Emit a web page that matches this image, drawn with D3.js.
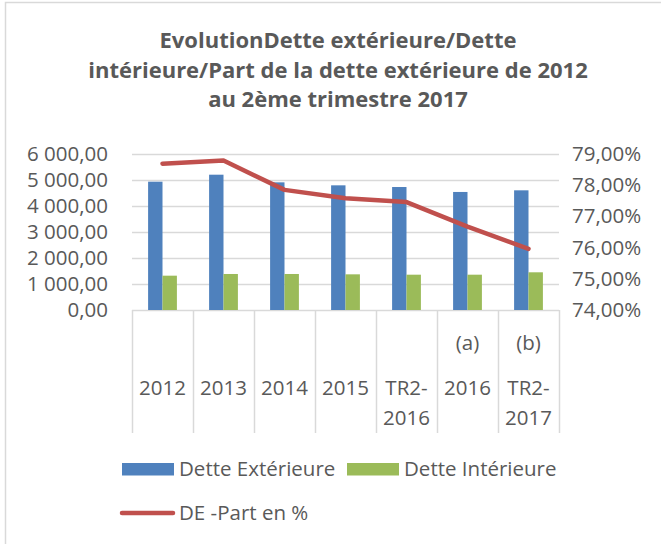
<!DOCTYPE html>
<html><head><meta charset="utf-8">
<script src="https://cdn.jsdelivr.net/npm/d3@7"></script>
<style>body{margin:0;background:#fff;} svg{display:block;} text{font-family:"Open Sans",sans-serif;fill:#595959;}</style>
</head><body><div id="chart"></div>
<script>
const categories = ["2012","2013","2014","2015","TR2-2016","2016","TR2-2017"];
const categoryLines = [["2012"],["2013"],["2014"],["2015"],["TR2-","2016"],["2016"],["TR2-","2017"]];
const categoryNotes = ["","","","","","(a)","(b)"];
const detteExterieure = [4935, 5204, 4910, 4795, 4730, 4540, 4603];
const detteInterieure = [1320, 1385, 1385, 1372, 1358, 1358, 1450];
const partDE = [78.69, 78.79, 77.85, 77.58, 77.46, 76.67, 75.96];
const leftTicks = [0,1000,2000,3000,4000,5000,6000];
const rightTicks = [74,75,76,77,78,79];
const titleLines = ["EvolutionDette extérieure/Dette","intérieure/Part de la dette extérieure de 2012","au 2ème trimestre 2017"];
const seriesNames = ["Dette Extérieure","Dette Intérieure","DE -Part en %"];
const colors = {ext:"#4F81BD", int:"#9BBB59", line:"#C0504D", grid:"#D9D9D9", text:"#595959"};

const W=661,H=544;
const svg=d3.select("#chart").append("svg").attr("width",W).attr("height",H);
// chart border
svg.append("path").attr("d","M5.5,544 V2.5 H661").attr("fill","none").attr("stroke",colors.grid).attr("stroke-width",1.5);

const plot={left:132,right:559,top:154,bottom:310};
const x0=d3.scaleBand().domain(categories).range([plot.left,plot.right]).paddingInner(0).paddingOuter(0);
const x1=d3.scaleBand().domain(["ext","int"]).range([0,x0.bandwidth()]).paddingInner(0).paddingOuter(1.118);
const yL=d3.scaleLinear().domain([0,6000]).range([plot.bottom,plot.top]);
const yR=d3.scaleLinear().domain([74,79]).range([plot.bottom,plot.top]);

// title
const tg=svg.append("g");
const titleY=[48,78,107];
titleLines.forEach((t,i)=>{
  tg.append("text").attr("x",338).attr("y",titleY[i]).attr("text-anchor","middle")
    .attr("font-size",22).attr("font-weight","bold").text(t);
});

// gridlines
svg.append("g").selectAll("line").data(leftTicks).join("line")
  .attr("x1",plot.left).attr("x2",plot.right)
  .attr("y1",d=>Math.round(yL(d))+0.5).attr("y2",d=>Math.round(yL(d))+0.5)
  .attr("stroke",colors.grid).attr("stroke-width",1.5);

// left axis labels
const fmtL=d=>d3.format(",.2f")(d).replace(/,/g," ").replace(".",",");
svg.append("g").selectAll("text").data(leftTicks).join("text")
  .attr("x",108).attr("y",d=>yL(d)+7).attr("text-anchor","end").attr("font-size",20.5)
  .text(fmtL);
// right axis labels
svg.append("g").selectAll("text").data(rightTicks).join("text")
  .attr("x",572).attr("y",d=>yR(d)+7).attr("text-anchor","start").attr("font-size",20.5)
  .text(d=>d3.format(".2f")(d).replace(".",",")+"%");

// category separators
const bounds=categories.map(c=>x0(c)).concat([plot.right]);
svg.append("g").selectAll("line").data(bounds).join("line")
  .attr("x1",d=>Math.round(d)+0.5).attr("x2",d=>Math.round(d)+0.5)
  .attr("y1",plot.bottom).attr("y2",433)
  .attr("stroke",colors.grid).attr("stroke-width",1.5);

// category labels
const cg=svg.append("g");
categories.forEach((c,i)=>{
  const cx=x0(c)+x0.bandwidth()/2;
  categoryLines[i].forEach((l,j)=>{
    cg.append("text").attr("x",cx).attr("y",395+j*30).attr("text-anchor","middle").attr("font-size",20.5).text(l);
  });
  if(categoryNotes[i]) cg.append("text").attr("x",cx).attr("y",350).attr("text-anchor","middle").attr("font-size",20.5).text(categoryNotes[i]);
});

// bars
const bars=svg.append("g");
bars.selectAll("rect.ext").data(detteExterieure).join("rect").attr("class","ext")
  .attr("x",(d,i)=>x0(categories[i])+x1("ext")).attr("width",x1.bandwidth())
  .attr("y",d=>yL(d)).attr("height",d=>yL(0)-yL(d)).attr("fill",colors.ext);
bars.selectAll("rect.int").data(detteInterieure).join("rect").attr("class","int")
  .attr("x",(d,i)=>x0(categories[i])+x1("int")).attr("width",x1.bandwidth())
  .attr("y",d=>yL(d)).attr("height",d=>yL(0)-yL(d)).attr("fill",colors.int);

// line
const line=d3.line().x((d,i)=>x0(categories[i])+x0.bandwidth()/2).y(d=>yR(d));
svg.append("path").datum(partDE).attr("d",line).attr("fill","none")
  .attr("stroke",colors.line).attr("stroke-width",4.5).attr("stroke-linejoin","round").attr("stroke-linecap","round");

// legend
const lg=svg.append("g");
lg.append("rect").attr("x",122).attr("y",463).attr("width",52).attr("height",12.5).attr("fill",colors.ext);
lg.append("text").attr("x",179).attr("y",476).attr("font-size",20.5).text(seriesNames[0]);
lg.append("rect").attr("x",347).attr("y",463).attr("width",52).attr("height",12.5).attr("fill",colors.int);
lg.append("text").attr("x",404).attr("y",476).attr("font-size",20.5).text(seriesNames[1]);
lg.append("line").attr("x1",122).attr("x2",173).attr("y1",513).attr("y2",513)
  .attr("stroke",colors.line).attr("stroke-width",4.5).attr("stroke-linecap","round");
lg.append("text").attr("x",179).attr("y",520).attr("font-size",20.5).text(seriesNames[2]);
</script></body></html>
